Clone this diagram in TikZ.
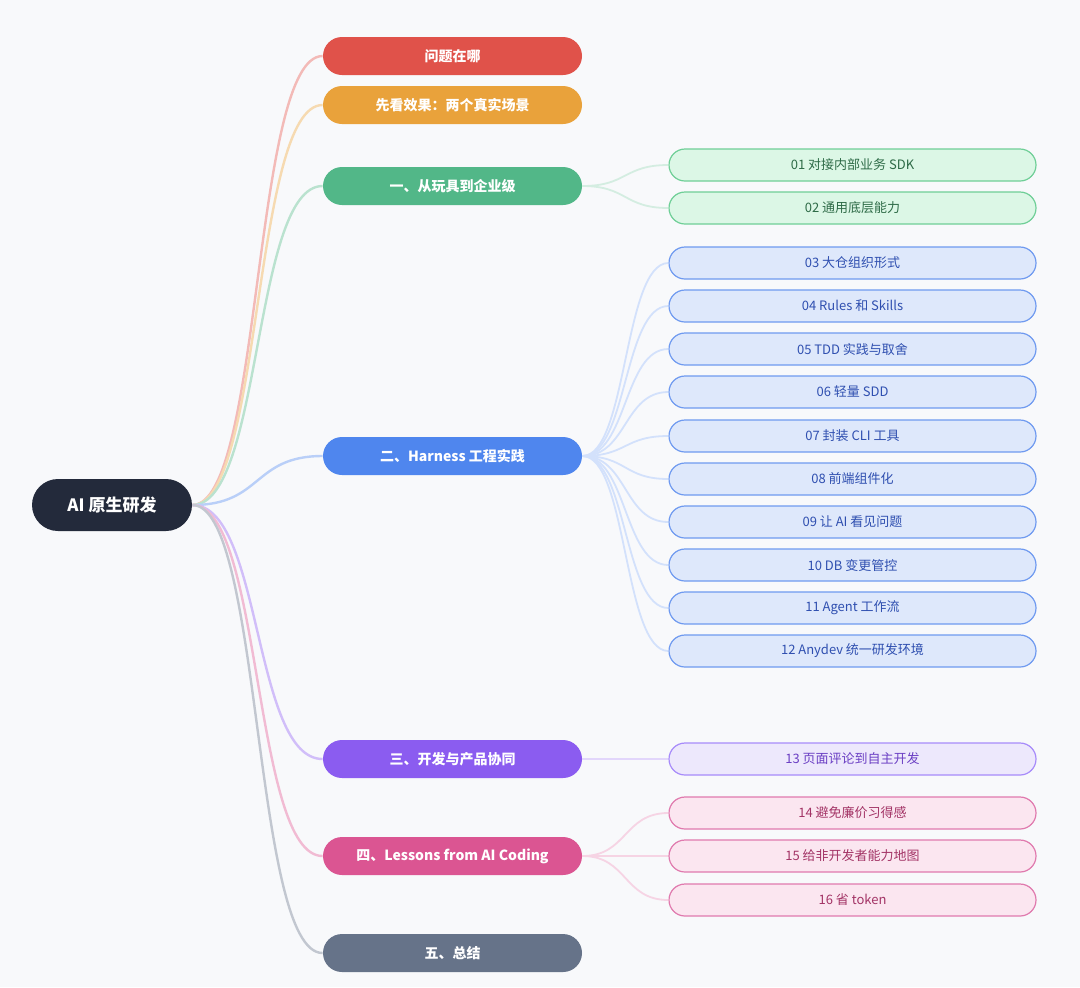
\documentclass[tikz,border=0pt]{standalone}
\usepackage{fontspec}
\setmainfont{Noto Sans CJK SC}
\usetikzlibrary{positioning}
\definecolor{bgc}{HTML}{F8F9FB}
\definecolor{rootc}{HTML}{232A3B}
\definecolor{cA}{HTML}{E0524A}
\definecolor{cB}{HTML}{E9A23B}
\definecolor{cC}{HTML}{52B788}
\definecolor{cD}{HTML}{4F86EE}
\definecolor{cE}{HTML}{8B5CF0}
\definecolor{cF}{HTML}{DB5592}
\definecolor{cG}{HTML}{667389}
\definecolor{gfill}{HTML}{DCF7E6}
\definecolor{gline}{HTML}{6FCF97}
\definecolor{gtext}{HTML}{2E6B47}
\definecolor{bfill}{HTML}{DEE8FB}
\definecolor{bline}{HTML}{6F9AF0}
\definecolor{btext}{HTML}{2F4FB0}
\definecolor{pfill}{HTML}{EDE8FC}
\definecolor{pline}{HTML}{A78BFA}
\definecolor{ptext}{HTML}{6B3FC4}
\definecolor{kfill}{HTML}{FBE6F0}
\definecolor{kline}{HTML}{E07AAE}
\definecolor{ktext}{HTML}{A33466}
\tikzset{
  root/.style={rounded corners=13pt,fill=rootc,text=white,minimum width=80pt,minimum height=26pt,font=\bfseries\fontsize{8.5}{10}\selectfont},
  topic/.style={rounded corners=9.5pt,fill=#1,text=white,minimum width=129.5pt,minimum height=19pt,font=\bfseries\fontsize{7}{8}\selectfont},
  leaf/.style n args={3}{rounded corners=8pt,draw=#2,line width=0.6pt,fill=#1,text=#3,minimum width=183.5pt,minimum height=16pt,font=\fontsize{6.5}{8}\selectfont},
  branch/.style={draw=#1!40,line width=1.2pt},
  twig/.style={draw=#1!25,line width=0.9pt}
}
\begin{document}
\begin{tikzpicture}[x=0.5pt,y=-0.5pt]
\fill[bgc] (0,0) rectangle (1080,987);
\node[root] (r) at (112,505) {AI 原生研发};
% first level
\foreach \n/\y/\c/\t in {a/56/cA/问题在哪, b/105/cB/先看效果：两个真实场景, c/186/cC/一、从玩具到企业级,
  d/456/cD/二、Harness 工程实践, e/759/cE/三、开发与产品协同, f/856/cF/四、Lessons from AI Coding, g/953/cG/五、总结}{
  \node[topic=\c] (\n) at (452.5,\y) {\t};
  \draw[branch=\c] (r.east) .. controls +(70,0) and +(-70,0) .. (\n.west);
}
% second level
\foreach \n/\y/\p/\t in {c1/165/c/01 对接内部业务 SDK, c2/208/c/02 通用底层能力}{
  \node[leaf={gfill}{gline}{gtext}] (\n) at (852.5,\y) {\t};
  \draw[twig=cC] (\p.east) .. controls +(45,0) and +(-45,0) .. (\n.west);
}
\foreach \n/\y/\t in {d1/263/03 大仓组织形式, d2/306/04 Rules 和 Skills, d3/349/05 TDD 实践与取舍, d4/392/06 轻量 SDD,
  d5/436/07 封装 CLI 工具, d6/479/08 前端组件化, d7/522/09 让 AI 看见问题, d8/565/10 DB 变更管控,
  d9/608/11 Agent 工作流, d10/651/12 Anydev 统一研发环境}{
  \node[leaf={bfill}{bline}{btext}] (\n) at (852.5,\y) {\t};
  \draw[twig=cD] (d.east) .. controls +(45,0) and +(-45,0) .. (\n.west);
}
\node[leaf={pfill}{pline}{ptext}] (e1) at (852.5,759) {13 页面评论到自主开发};
\draw[twig=cE] (e.east) -- (e1.west);
\foreach \n/\y/\t in {f1/813/14 避免廉价习得感, f2/856/15 给非开发者能力地图, f3/900/16 省 token}{
  \node[leaf={kfill}{kline}{ktext}] (\n) at (852.5,\y) {\t};
  \draw[twig=cF] (f.east) .. controls +(45,0) and +(-45,0) .. (\n.west);
}
\end{tikzpicture}
\end{document}
